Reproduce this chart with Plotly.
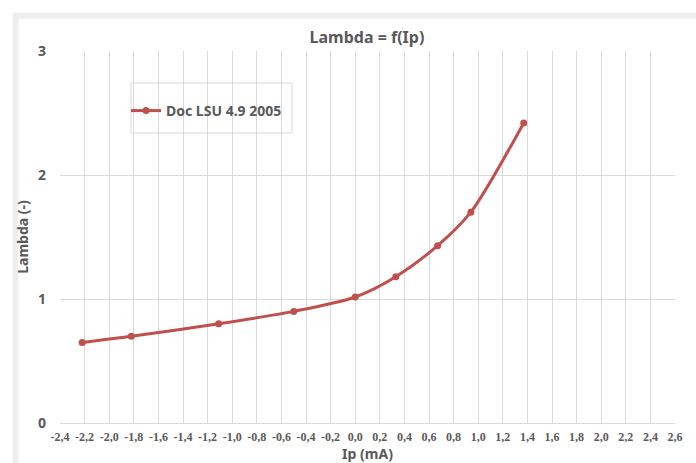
import plotly.graph_objects as go

# Pump current Ip (mA) versus lambda, LSU 4.9 sensor documentation (2005)
ip_ma = [-2.22, -1.82, -1.11, -0.50, 0.00, 0.33, 0.67, 0.94, 1.37]
lambda_vals = [0.65, 0.70, 0.80, 0.90, 1.016, 1.18, 1.43, 1.70, 2.42]
series_name = "Doc LSU 4.9 2005"

# x ticks every 0.2 mA, labelled with a decimal comma
x_tick_vals = [round(-2.4 + 0.2 * i, 1) for i in range(26)]
x_tick_text = [f"{v:.1f}".replace(".", ",").replace("-0,0", "0,0") for v in x_tick_vals]
y_tick_vals = [0, 1, 2, 3]
y_tick_text = ["0", "1", "2", "3"]

title_text = "Lambda = f(Ip)"
x_title = "Ip (mA)"
y_title = "Lambda (-)"

GRAY_TXT = "#595959"
GRID = "#D9D9D9"
RED = "#C0504D"
FONT = "Noto Sans"

W, H = 696, 463
L, R, T, B = 60, 21, 51, 40
PW, PH = W - L - R, H - T - B


def px_x(p):
    return (p - L) / PW


def px_y(p):
    return (H - B - p) / PH


fig = go.Figure()
fig.add_trace(go.Scatter(
    x=ip_ma, y=lambda_vals, name=series_name,
    mode="lines+markers",
    line=dict(color=RED, width=3, shape="spline", smoothing=0.8),
    marker=dict(color=RED, size=7),
))

fig.update_layout(
    width=W, height=H,
    margin=dict(l=L, r=R, t=T, b=B, autoexpand=False),
    paper_bgcolor="white", plot_bgcolor="white",
    showlegend=True,
    title=dict(text=title_text, x=367 / W, xanchor="center",
               y=1 - 37 / H, yanchor="middle",
               font=dict(family=FONT, size=16, color=GRAY_TXT, weight="bold")),
    legend=dict(x=px_x(126), y=px_y(95), xanchor="left", yanchor="top",
                bgcolor="rgba(0,0,0,0)", borderwidth=0,
                font=dict(family=FONT, size=14, color=GRAY_TXT, weight="bold"),
                itemwidth=30),
    xaxis=dict(range=[-2.4, 2.6], tickmode="array", automargin=False,
               tickvals=x_tick_vals, ticktext=x_tick_text,
               showgrid=True, gridcolor=GRID, gridwidth=1,
               showline=True, linecolor=GRID, linewidth=1,
               zeroline=False, ticks="", ticklabelstandoff=3,
               tickfont=dict(family="Liberation Sans Narrow", size=12,
                             color=GRAY_TXT, weight="bold"),
               title=dict(text=x_title, standoff=3,
                          font=dict(family=FONT, size=14, color=GRAY_TXT, weight="bold"))),
    yaxis=dict(range=[0, 3], tickmode="array", automargin=False,
               tickvals=y_tick_vals, ticktext=y_tick_text,
               showgrid=True, gridcolor=GRID, gridwidth=1,
               showline=False, zeroline=False, ticks="", ticklabelstandoff=13,
               tickfont=dict(family=FONT, size=14, color=GRAY_TXT, weight="bold"),
               title=dict(text=y_title, standoff=6,
                          font=dict(family=FONT, size=14, color=GRAY_TXT, weight="bold"))),
)

# legend frame
fig.add_shape(type="rect", xref="paper", yref="paper",
              x0=px_x(131), x1=px_x(292), y0=px_y(133), y1=px_y(83),
              line=dict(color=GRID, width=1), fillcolor="rgba(0,0,0,0)", layer="above")

# chart frame
fig.add_shape(type="rect", xref="paper", yref="paper",
              x0=px_x(15.5), x1=px_x(760), y0=px_y(520), y1=px_y(15.5),
              line=dict(color="#EEEEEE", width=6), fillcolor="rgba(0,0,0,0)", layer="below")

fig.write_html("out.html")
